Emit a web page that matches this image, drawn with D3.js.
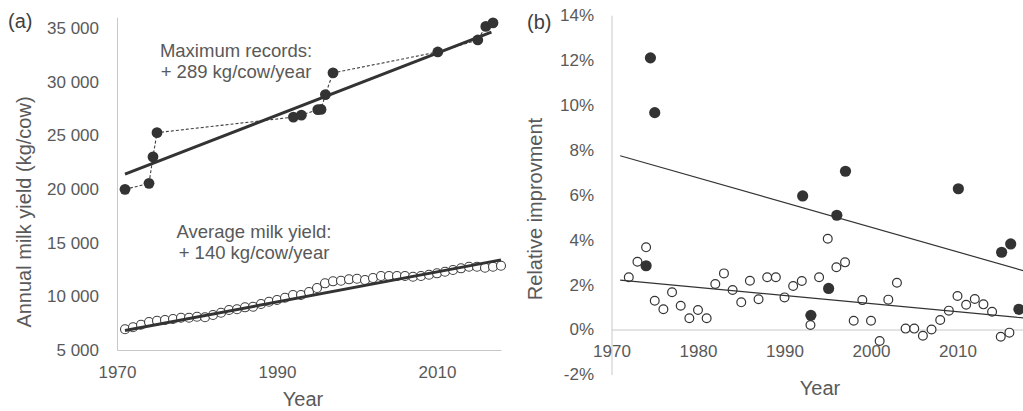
<!DOCTYPE html>
<html>
<head>
<meta charset="utf-8">
<script src="https://cdn.jsdelivr.net/npm/d3@7"></script>
<style>
  html, body { margin: 0; padding: 0; background: #fff; }
  svg { display: block; font-family: "Liberation Sans", Arial, sans-serif; }
  .tick text { fill: #595959; font-size: 17px; }
  .domain { stroke: #c8c8c8; stroke-width: 1px; }
</style>
</head>
<body>
<svg id="chart" width="1023" height="411"></svg>
<script>
// ---- Panel (a): milk yield per cow ----
// Record-holding cows (year of record, kg/cow)
const recordYears = [1971, 1974.0, 1974.5, 1975.0, 1992.05, 1993.05, 1995.1, 1995.5, 1996.05, 1997.0, 2010.1, 2015.1, 2016.1, 2017.0];
const recordYield = [19970, 20530, 23000, 25250, 26700, 26880, 27400, 27420, 28800, 30820, 32770, 33890, 35150, 35480];

// National average yield (kg/cow)
const avgYears = d3.range(1971, 2019);
const avgYield = [6930, 7115, 7357, 7609, 7730, 7795, 7888, 8009, 8009, 8102,
                  8047, 8261, 8475, 8727, 8792, 8978, 9034, 9286, 9500, 9658,
                  9873, 10124, 10124, 10404, 10777, 11214, 11400, 11457, 11587, 11643,
                  11522, 11708, 11894, 11894, 11894, 11894, 11829, 11894, 12016, 12146,
                  12295, 12454, 12612, 12761, 12761, 12668, 12761, 12854];

// Linear trends (kg/cow/year), anchored at a mid year
const recordTrend = { slope: 289, midYear: 1993.9, midValue: 28010, from: 1971, to: 2016.8 };
const avgTrend = { slope: 140, midYear: 1994.5, midValue: 10106, from: 1971, to: 2018 };

const yieldTicks = [5000, 10000, 15000, 20000, 25000, 30000, 35000];
const yearTicksA = [1970, 1990, 2010];

// ---- Panel (b): relative improvement (%) ----
const relRecordYears = [1974.0, 1974.5, 1975.0, 1992.1, 1993.05, 1995.1, 1996.05, 1997.05, 2010.1, 2015.1, 2016.15, 2017.1];
const relRecord = [2.84, 12.1, 9.66, 5.95, 0.63, 1.83, 5.09, 7.05, 6.27, 3.44, 3.81, 0.90];

const relAvgYears = d3.range(1972, 2017);
const relAvg = [2.33, 3.02, 3.66, 1.28, 0.90, 1.66, 1.06, 0.50, 0.87, 0.50,
                2.03, 2.50, 1.76, 1.21, 2.17, 1.35, 2.33, 2.33, 1.43, 1.94,
                2.16, 0.20, 2.33, 4.04, 2.77, 2.99, 0.39, 1.31, 0.39, -0.51,
                1.33, 2.08, 0.04, 0.04, -0.28, 0.00, 0.42, 0.84, 1.49, 1.10,
                1.36, 1.12, 0.79, -0.32, -0.14];

// Trend lines of relative improvement (start / end values, %)
const relRecordTrend = { from: 1971, to: 2018, start: 7.74, end: 2.58 };
const relAvgTrend = { from: 1971, to: 2018, start: 2.20, end: 0.50 };

const relTicksY = [-2, 0, 2, 4, 6, 8, 10, 12, 14];
const yearTicksB = [1970, 1980, 1990, 2000, 2010];

// ---------------------------------------------------------------
const svg = d3.select("#chart");
const ink = "#333333";
const textCol = "#595959";

const fmt = d3.formatLocale({ decimal: ".", thousands: " ", grouping: [3], currency: ["", ""] }).format(",");

// ===== Panel (a) =====
const xA = d3.scaleLinear().domain([1970, 2018]).range([117, 501]);
const yA = d3.scaleLinear().domain([5000, 36000]).range([350, 17.3]);

const gA = svg.append("g");

gA.append("g")
  .attr("transform", `translate(${xA(1970)},0)`)
  .call(d3.axisLeft(yA).tickValues(yieldTicks).tickSize(0).tickPadding(18).tickFormat(fmt));

gA.append("g")
  .attr("transform", `translate(0,${yA(5000)})`)
  .call(d3.axisBottom(xA).tickValues(yearTicksA).tickSize(0).tickFormat(d3.format("d")))
  .selectAll("text").attr("dy", null).attr("y", 28.3);

// dashed connector through the records
const recPts = recordYears.map((y, i) => [y, recordYield[i]]);
gA.append("path")
  .datum(recPts)
  .attr("fill", "none")
  .attr("stroke", "#404040")
  .attr("stroke-width", 1.1)
  .attr("stroke-dasharray", "3,2")
  .attr("d", d3.line().x(d => xA(d[0])).y(d => yA(d[1])));

gA.append("g").selectAll("circle")
  .data(recPts).join("circle")
  .attr("cx", d => xA(d[0])).attr("cy", d => yA(d[1]))
  .attr("r", 5.4).attr("fill", ink);

const avgPts = avgYears.map((y, i) => [y, avgYield[i]]);
gA.append("g").selectAll("circle")
  .data(avgPts).join("circle")
  .attr("cx", d => xA(d[0])).attr("cy", d => yA(d[1]))
  .attr("r", 4.5).attr("fill", "#fff")
  .attr("stroke", "#404040").attr("stroke-width", 1.1);

function trendA(t) {
  const f = yr => t.midValue + t.slope * (yr - t.midYear);
  return [[t.from, f(t.from)], [t.to, f(t.to)]];
}
[recordTrend, avgTrend].forEach(t => {
  gA.append("path")
    .datum(trendA(t))
    .attr("fill", "none").attr("stroke", ink).attr("stroke-width", 3)
    .attr("d", d3.line().x(d => xA(d[0])).y(d => yA(d[1])));
});

// annotations
const noteA = gA.append("g").attr("fill", textCol).attr("font-size", 18.5).attr("text-anchor", "middle");
noteA.append("text").attr("x", 236).attr("y", 56.5).text("Maximum records:");
noteA.append("text").attr("x", 236).attr("y", 77.5).text("+ 289 kg/cow/year");
noteA.append("text").attr("x", 254).attr("y", 237.7).text("Average milk yield:");
noteA.append("text").attr("x", 254).attr("y", 259).text("+ 140 kg/cow/year");

gA.append("text").attr("x", 303).attr("y", 406).attr("text-anchor", "middle")
  .attr("fill", textCol).attr("font-size", 20).text("Year");
gA.append("text")
  .attr("transform", "translate(31,212) rotate(-90)")
  .attr("text-anchor", "middle").attr("fill", textCol).attr("font-size", 20)
  .text("Annual milk yield (kg/cow)");
gA.append("text").attr("x", 8).attr("y", 28).attr("fill", "#404040").attr("font-size", 20).text("(a)");

// ===== Panel (b) =====
const xB = d3.scaleLinear().domain([1970, 2018]).range([611.5, 1026.7]);
const yB = d3.scaleLinear().domain([-2, 14]).range([374.4, 15.2]);

const gB = svg.append("g");

gB.append("g")
  .attr("transform", `translate(${xB(1970)},0)`)
  .call(d3.axisLeft(yB).tickValues(relTicksY).tickSize(0).tickPadding(17.5).tickFormat(d => d + "%"));

gB.append("g")
  .attr("transform", `translate(0,${yB(0)})`)
  .call(d3.axisBottom(xB).tickValues(yearTicksB).tickSize(0).tickFormat(d3.format("d")))
  .selectAll("text").attr("dy", null).attr("y", 27.2);

const relAvgPts = relAvgYears.map((y, i) => [y, relAvg[i]]);
gB.append("g").selectAll("circle")
  .data(relAvgPts).join("circle")
  .attr("cx", d => xB(d[0])).attr("cy", d => yB(d[1]))
  .attr("r", 4.4).attr("fill", "#fff")
  .attr("stroke", "#333").attr("stroke-width", 1.2);

const relRecPts = relRecordYears.map((y, i) => [y, relRecord[i]]);
gB.append("g").selectAll("circle")
  .data(relRecPts).join("circle")
  .attr("cx", d => xB(d[0])).attr("cy", d => yB(d[1]))
  .attr("r", 5.6).attr("fill", ink);

[relRecordTrend, relAvgTrend].forEach(t => {
  gB.append("path")
    .datum([[t.from, t.start], [t.to, t.end]])
    .attr("fill", "none").attr("stroke", ink).attr("stroke-width", 1.2)
    .attr("d", d3.line().x(d => xB(d[0])).y(d => yB(d[1])));
});

gB.append("text").attr("x", 820).attr("y", 395).attr("text-anchor", "middle")
  .attr("fill", textCol).attr("font-size", 20).text("Year");
gB.append("text")
  .attr("transform", "translate(542,209) rotate(-90)")
  .attr("text-anchor", "middle").attr("fill", textCol).attr("font-size", 20)
  .text("Relative improvment");
gB.append("text").attr("x", 527).attr("y", 29).attr("fill", "#404040").attr("font-size", 20).text("(b)");
</script>
</body>
</html>
